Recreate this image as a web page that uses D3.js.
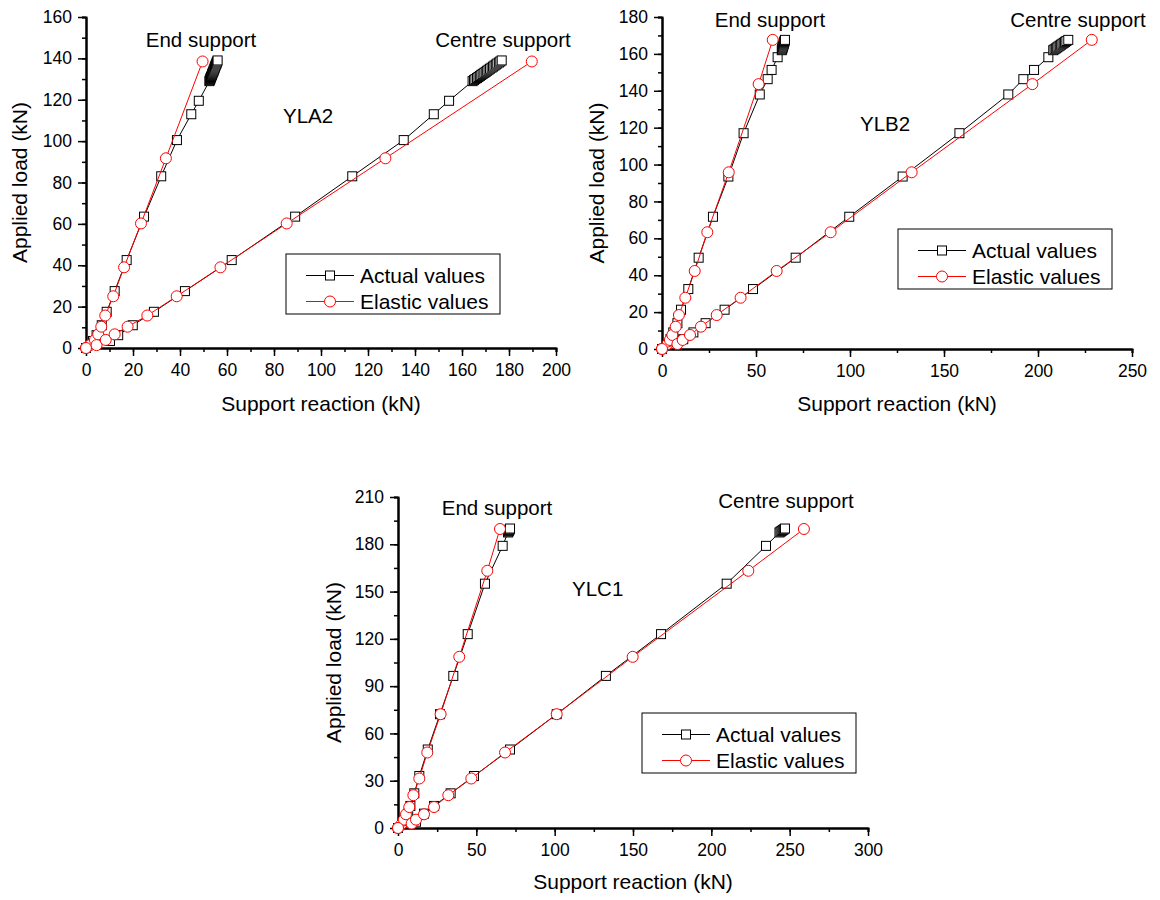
<!DOCTYPE html>
<meta charset="utf-8">
<head>
    <meta charset="UTF-8">
    <title>Applied load vs support reaction</title>
    <style>
      body { margin: 0; background: #fff; }
      text { font-family: "Liberation Sans", Arial, sans-serif; }
    </style>
</head>
<body>
<script src="https://d3js.org/d3.v7.min.js"></script>
<div id="chart"></div>
<script>

    // YLA2 - actual (measured) values
    const yla2LoadAct = [0, 3.4, 6.2, 11, 17.5, 27.5, 42.5, 63.5, 83, 100.5, 113, 119.5,
      129, 129.5, 130, 130.5, 131, 131.5, 132, 132.5, 133, 133.5, 134, 134.5, 135, 135.5, 136, 136.5, 137, 137.5, 138, 138.5, 139]
    const yla2EndAct = [0, 3, 4.5, 6.7, 8.8, 12.2, 17.3, 24.7, 32, 38.7, 44.8, 48,
      52.5, 52.7, 52.9, 53, 53.2, 53.4, 53.6, 53.7, 53.9, 54.1, 54.3, 54.4, 54.6, 54.8, 54.9, 55.1, 55.3, 55.5, 55.6, 55.8, 56]
    const yla2CentreAct = [0, 10.2, 13.7, 19.9, 28.9, 42.1, 62, 89, 113.3, 135.2, 148, 154.5,
      164.5, 165.1, 165.7, 166.4, 167, 167.6, 168.2, 168.8, 169.5, 170.1, 170.7, 171.3, 171.9, 172.6, 173.2, 173.8, 174.4, 175, 175.7, 176.3, 176.9]
    // YLA2 - elastic values
    const yla2LoadEl = [0, 1.4, 3.9, 6.6, 10.3, 15.7, 25, 39, 60.2, 91.7, 138.5]
    const yla2EndEl = [0, 1.7, 3.8, 5.2, 6.5, 8.2, 11.6, 16.2, 23.4, 34, 49.6]
    const yla2CentreEl = [0, 4.5, 8.4, 12.2, 17.7, 26.1, 38.6, 57.2, 85.4, 127.4, 189.7]

    // YLB2
    const ylb2LoadAct = [0, 5.3, 9, 14, 21.3, 32.5, 49.5, 71.7, 93.5, 117, 138, 146.3, 151.3, 158.2,
      162, 162.5, 163, 163.5, 164, 164.5, 165, 165.5, 166, 166.5, 167, 167.6]
    const ylb2EndAct = [0, 4.5, 6, 8.2, 10.1, 14, 19.5, 27.1, 35.3, 43.4, 52, 56.2, 58.3, 61.5,
      63.7, 63.85, 64, 64.15, 64.3, 64.45, 64.6, 64.75, 64.9, 65.05, 65.2, 65.4]
    const ylb2CentreAct = [0, 11.3, 16.7, 23.2, 33.3, 48.4, 71.1, 99.6, 128, 158.2, 184.2, 192.2, 197.9, 205.5,
      208.1, 208.8, 209.5, 210.2, 210.9, 211.6, 212.3, 213, 213.7, 214.4, 215.1, 216.1]
    const ylb2LoadEl = [0, 2.7, 4.9, 7.6, 12.1, 18.4, 27.8, 42.3, 63.3, 95.8, 143.6, 167.6]
    const ylb2EndEl = [0, 3, 4.2, 5.5, 7.3, 9, 12.4, 17.4, 24.1, 35.5, 51.4, 58.9]
    const ylb2CentreEl = [0, 8.2, 11, 14.9, 20.7, 29.1, 41.8, 61, 89.7, 132.8, 197, 228.6]

    // YLC1
    const ylc1LoadAct = [0, 4, 9.1, 14, 22, 33, 49.8, 72.2, 96.5, 123, 155, 179, 187.5, 188, 188.5, 189, 189.5, 190]
    const ylc1EndAct = [0, 4, 6.5, 7.9, 10.4, 13.6, 19, 26.8, 35.3, 44.5, 55.5, 66.8, 70.2, 70.5, 70.8, 71, 71.3, 71.5]
    const ylc1CentreAct = [0, 11.5, 16.6, 23, 33.6, 48.5, 71.5, 101.3, 132.7, 167.9, 209.8, 234.9, 243.5, 244.2, 244.9, 245.6, 246.3, 247]
    const ylc1LoadEl = [0, 2.8, 5.3, 8.7, 13.3, 20.8, 31.4, 47.9, 72.2, 108.6, 163.2, 189.7]
    const ylc1EndEl = [0, 2.5, 3.8, 5.1, 7.2, 9.8, 13.6, 18.7, 27.2, 39.1, 57, 65.1]
    const ylc1CentreEl = [0, 8.7, 11.5, 16.6, 23, 32.1, 46.8, 68.3, 101.3, 149.8, 223.6, 259.1]

    // axis limits / tick steps (major, minor)
    const xMax = [200, 250, 300]
    const xStep = [[20, 10], [50, 25], [50, 25]]
    const yMax = [160, 180, 210]
    const yStep = [[20, 10], [20, 10], [30, 15]]

    const panelNames = ["YLA2", "YLB2", "YLC1"]
    const legendLabels = ["Actual values", "Elastic values"]
    const endLabel = "End support"
    const centreLabel = "Centre support"
    const xTitle = "Support reaction (kN)"
    const yTitle = "Applied load (kN)"

    const zip = (xs, ys) => xs.map((x, i) => ({x: x, y: ys[i]}))

    const panels = [
      { // plot box in page pixels + where the labels sit
        x0: 86, x1: 556, y0: 348, y1: 17,
        end: [201, 47], centre: [503, 47], name: [283, 123], legend: [286, 254],
        xLab: 411, yLab: 27,
        act: [zip(yla2EndAct, yla2LoadAct), zip(yla2CentreAct, yla2LoadAct)],
        el: [zip(yla2EndEl, yla2LoadEl), zip(yla2CentreEl, yla2LoadEl)]
      },
      {
        x0: 662, x1: 1132, y0: 349, y1: 17,
        end: [770, 27], centre: [1078, 27], name: [860, 131], legend: [898, 229],
        xLab: 411, yLab: 604,
        act: [zip(ylb2EndAct, ylb2LoadAct), zip(ylb2CentreAct, ylb2LoadAct)],
        el: [zip(ylb2EndEl, ylb2LoadEl), zip(ylb2CentreEl, ylb2LoadEl)]
      },
      {
        x0: 398, x1: 868, y0: 828, y1: 497,
        end: [497, 515], centre: [786, 508], name: [572, 596], legend: [642, 713],
        xLab: 889, yLab: 341,
        act: [zip(ylc1EndAct, ylc1LoadAct), zip(ylc1CentreAct, ylc1LoadAct)],
        el: [zip(ylc1EndEl, ylc1LoadEl), zip(ylc1CentreEl, ylc1LoadEl)]
      }
    ]

    const svg = d3.select("#chart")
      .append("svg")
        .attr("width", 1160)
        .attr("height", 900)

    const range = (max, step) => d3.range(0, max + step / 2, step)

    function drawSquares(g, data, x, y) {
      g.selectAll(null)
        .data(data)
        .join("rect")
          .attr("x", d => x(d.x) - 4.5)
          .attr("y", d => y(d.y) - 4.5)
          .attr("width", 9)
          .attr("height", 9)
          .attr("fill", "white")
          .attr("stroke", "black")
          .attr("stroke-width", 1)
    }

    function drawCircles(g, data, x, y) {
      g.selectAll(null)
        .data(data)
        .join("circle")
          .attr("cx", d => x(d.x))
          .attr("cy", d => y(d.y))
          .attr("r", 5.5)
          .attr("fill", "white")
          .attr("stroke", "red")
          .attr("stroke-width", 1)
    }

    panels.forEach(function(p, i) {
      const g = svg.append("g")

      const x = d3.scaleLinear().domain([0, xMax[i]]).range([p.x0, p.x1])
      const y = d3.scaleLinear().domain([0, yMax[i]]).range([p.y0, p.y1])

      // minor ticks first, then major ticks with labels
      g.append("g")
        .attr("transform", `translate(0,${p.y0})`)
        .call(d3.axisBottom(x).tickValues(range(xMax[i], xStep[i][1])).tickSize(4).tickFormat(""))
      g.append("g")
        .attr("transform", `translate(${p.x0},0)`)
        .call(d3.axisLeft(y).tickValues(range(yMax[i], yStep[i][1])).tickSize(4).tickFormat(""))
      g.append("g")
        .attr("transform", `translate(0,${p.y0})`)
        .call(d3.axisBottom(x).tickValues(range(xMax[i], xStep[i][0])).tickSize(8).tickSizeOuter(0).tickPadding(8))
      g.append("g")
        .attr("transform", `translate(${p.x0},0)`)
        .call(d3.axisLeft(y).tickValues(range(yMax[i], yStep[i][0])).tickSize(8).tickSizeOuter(0).tickPadding(6))

      g.selectAll(".domain").attr("stroke-width", 2).attr("stroke", "black")
      g.selectAll(".tick line").attr("stroke-width", 1.5).attr("stroke", "black")
      g.selectAll(".tick text")
        .attr("fill", "black")
        .style("font-size", "17.5px")
        .style("font-family", "'Liberation Sans', Arial, sans-serif")

      // axis titles
      g.append("text")
        .attr("x", (p.x0 + p.x1) / 2)
        .attr("y", p.xLab)
        .attr("text-anchor", "middle")
        .style("font-size", "21px")
        .text(xTitle)
      g.append("text")
        .attr("transform", `translate(${p.yLab},${(p.y0 + p.y1) / 2}) rotate(-90)`)
        .attr("text-anchor", "middle")
        .style("font-size", "21px")
        .text(yTitle)

      // series: actual (black squares) below elastic (red circles)
      const line = d3.line().x(d => x(d.x)).y(d => y(d.y))
      p.act.forEach(function(s) {
        g.append("path").datum(s)
          .attr("d", line).attr("fill", "none").attr("stroke", "black").attr("stroke-width", 1)
        drawSquares(g, s, x, y)
      })
      p.el.forEach(function(s) {
        g.append("path").datum(s)
          .attr("d", line).attr("fill", "none").attr("stroke", "red").attr("stroke-width", 1)
        drawCircles(g, s, x, y)
      })

      // annotations
      g.append("text").attr("x", p.end[0]).attr("y", p.end[1])
        .attr("text-anchor", "middle").style("font-size", "20.5px").text(endLabel)
      g.append("text").attr("x", p.centre[0]).attr("y", p.centre[1])
        .attr("text-anchor", "middle").style("font-size", "20.5px").text(centreLabel)
      g.append("text").attr("x", p.name[0]).attr("y", p.name[1])
        .style("font-size", "20.5px").text(panelNames[i])

      // legend
      const lg = g.append("g").attr("transform", `translate(${p.legend[0]},${p.legend[1]})`)
      lg.append("rect")
        .attr("width", 214).attr("height", 60)
        .attr("fill", "white").attr("stroke", "black").attr("stroke-width", 1)
      legendLabels.forEach(function(lab, k) {
        const ry = k == 0 ? 21.5 : 47.5
        const col = k == 0 ? "black" : "red"
        lg.append("line")
          .attr("x1", 20).attr("x2", 68).attr("y1", ry).attr("y2", ry)
          .attr("stroke", col).attr("stroke-width", 1)
        if (k == 0) {
          lg.append("rect").attr("x", 44 - 4.5).attr("y", ry - 4.5).attr("width", 9).attr("height", 9)
            .attr("fill", "white").attr("stroke", "black")
        } else {
          lg.append("circle").attr("cx", 44).attr("cy", ry).attr("r", 5.5)
            .attr("fill", "white").attr("stroke", "red")
        }
        lg.append("text")
          .attr("x", 74).attr("y", ry + 7.5)
          .style("font-size", "21px")
          .text(lab)
      })
    })
</script>
</body>
